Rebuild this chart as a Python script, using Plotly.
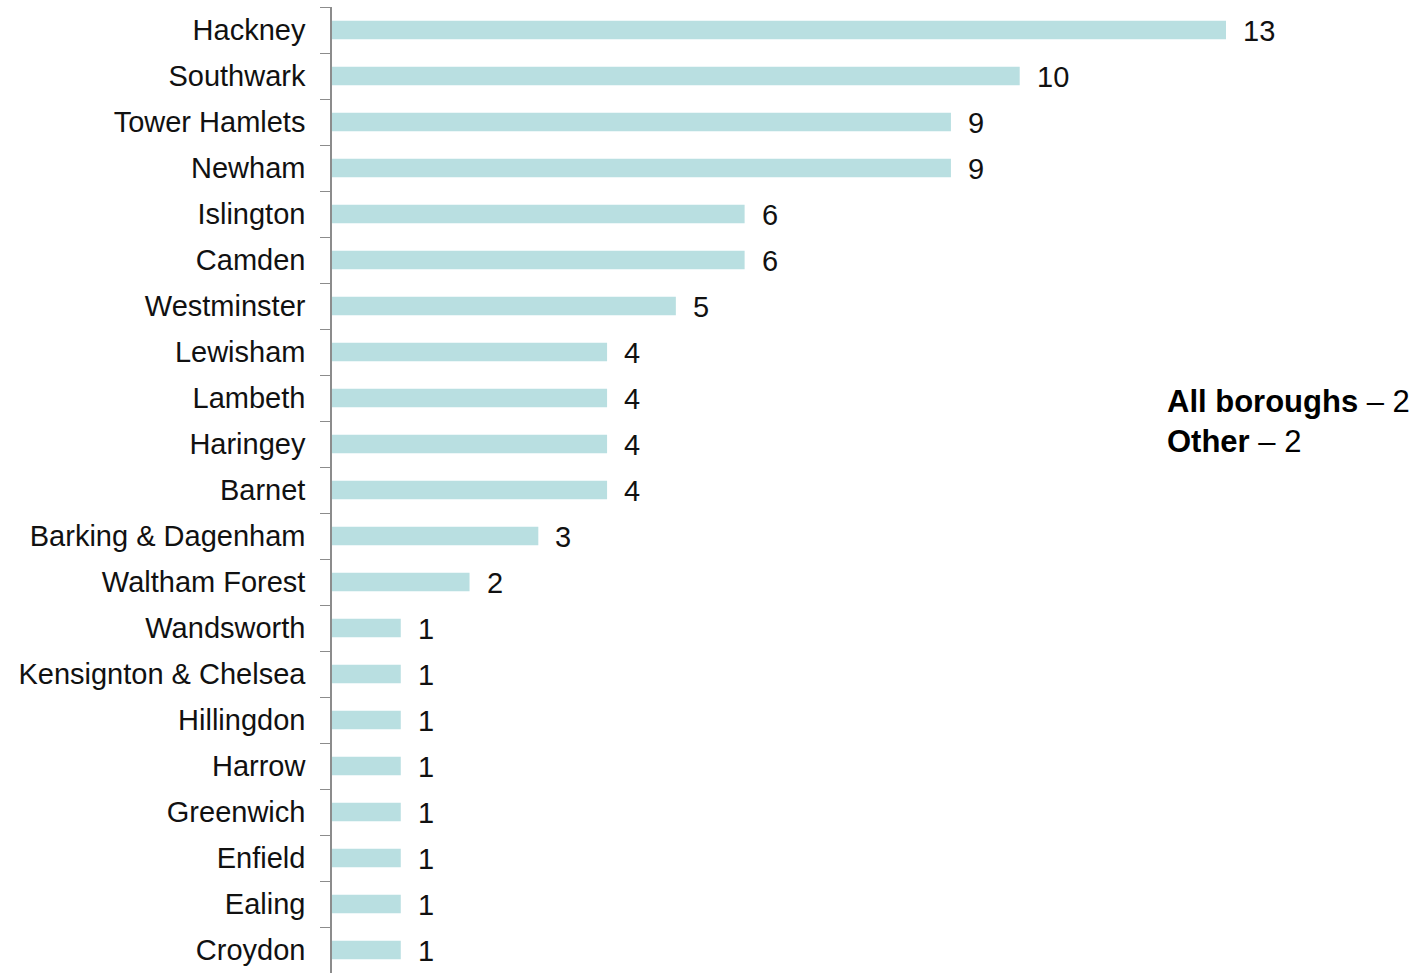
import plotly.graph_objects as go

boroughs = ["Hackney", "Southwark", "Tower Hamlets", "Newham", "Islington", "Camden",
            "Westminster", "Lewisham", "Lambeth", "Haringey", "Barnet",
            "Barking & Dagenham", "Waltham Forest", "Wandsworth", "Kensignton & Chelsea",
            "Hillingdon", "Harrow", "Greenwich", "Enfield", "Ealing", "Croydon"]
counts = [13, 10, 9, 9, 6, 6, 5, 4, 4, 4, 4, 3, 2, 1, 1, 1, 1, 1, 1, 1, 1]
other_labels = ["All boroughs", "Other"]
other_counts = [2, 2]

font = "Liberation Sans, Arial, sans-serif"

fig = go.Figure()
fig.add_trace(go.Bar(
    x=counts,
    y=boroughs,
    orientation="h",
    marker=dict(color="#b9dfe1", line=dict(width=0)),
    width=0.4,
    hoverinfo="skip",
))

# value labels next to each bar
for b, c in zip(boroughs, counts):
    fig.add_annotation(x=c, y=b, text=str(c), showarrow=False,
                       xanchor="left", xshift=15, yshift=-1,
                       font=dict(size=29, color="#111111", family=font))

side = "<br>".join(f"<b>{l}</b> – {c}" for l, c in zip(other_labels, other_counts))
fig.add_annotation(x=(1165 - 332) / 1088, y=(973 - 421) / 966, xref="paper", yref="paper",
                   text=side, showarrow=False, xanchor="left", yanchor="middle",
                   align="left",
                   font=dict(size=31, color="#000000", family=font))

fig.update_layout(
    width=1420, height=973,
    margin=dict(l=332, r=0, t=7, b=0, autoexpand=False),
    plot_bgcolor="white", paper_bgcolor="white",
    showlegend=False,
    bargap=0.6,
)
fig.update_xaxes(range=[0, 1088 / 68.77], visible=False, automargin=False)
fig.update_yaxes(
    autorange="reversed", automargin=False,
    showline=True, linecolor="#8c8c8c", linewidth=1.5,
    ticks="outside", tickson="boundaries", ticklen=10, tickcolor="#8c8c8c",
    ticklabelstandoff=19,
    showgrid=False,
    tickfont=dict(size=29, color="#111111", family=font),
)

fig.write_html("out.html", config={"displayModeBar": False},
               post_script="document.body.style.margin='0';")
